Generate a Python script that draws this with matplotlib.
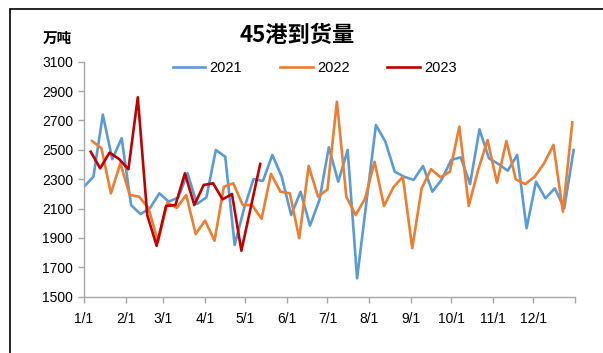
import pandas as pd
import numpy as np
import matplotlib.pyplot as plt
from matplotlib.patches import Rectangle

plt.rcParams['font.family'] = ['Liberation Sans', 'Noto Sans CJK SC', 'DejaVu Sans']

# weekly arrivals at 45 ports, 10k tonnes
v2021 = [2249, 2317, 2740, 2436, 2579, 2124, 2062, 2102, 2204, 2147,
         2175, 2340, 2131, 2177, 2499, 2453, 1852, 2100, 2301, 2288,
         2465, 2317, 2056, 2215, 1984, 2158, 2517, 2283, 2499, 1625,
         2147, 2669, 2556, 2351, 2317, 2295, 2390, 2215, 2299, 2431,
         2449, 2267, 2640, 2442, 2404, 2358, 2465, 1966, 2283, 2170,
         2238, 2102, 2499]
v2022 = [2560, 2510, 2204, 2408, 2193, 2181, 2102, 1875, 2140, 2105,
         2193, 1927, 2018, 1881, 2249, 2272, 2124, 2124, 2030, 2336,
         2215, 2204, 1898, 2390, 2181, 2231, 2828, 2181, 2056, 2170,
         2419, 2118, 2245, 2317, 1830, 2238, 2368, 2313, 2351, 2658,
         2118, 2363, 2567, 2276, 2560, 2299, 2267, 2317, 2408, 2533,
         2079, 2687]
v2023 = [2487, 2374, 2481, 2438, 2368, 2858, 2056, 1847, 2118, 2124,
         2340, 2124, 2261, 2272, 2163, 2199, 1813, 2109, 2404]

starts = {'2021': '2021-01-01', '2022': '2022-01-07', '2023': '2023-01-06'}
series = {'2021': v2021, '2022': v2022, '2023': v2023}
colors = {'2021': '#5B9BD5', '2022': '#ED7D31', '2023': '#C00000'}

month_days = [0, 31, 59, 90, 120, 151, 181, 212, 243, 273, 304, 334, 365]
month_labels = ['1/1', '2/1', '3/1', '4/1', '5/1', '6/1', '7/1', '8/1',
                '9/1', '10/1', '11/1', '12/1', '']

fig = plt.figure(figsize=(6.03, 3.53), dpi=100)
ax = fig.add_axes([84/603, 1 - 296.7/353, 491/603, 235/353])

for name, vals in series.items():
    d = pd.date_range(starts[name], periods=len(vals), freq='7D')
    x = d.dayofyear - 1
    ax.plot(x, vals, color=colors[name], lw=1.9, label=name)

ax.set_xlim(0, 365)
ax.set_ylim(1500, 3100)
ax.set_yticks(np.arange(1500, 3101, 200))
ax.set_xticks(month_days)
ax.set_xticklabels(month_labels)

for s in ['top', 'right']:
    ax.spines[s].set_visible(False)
for s in ['left', 'bottom']:
    ax.spines[s].set_color('#a6a6a6')
    ax.spines[s].set_linewidth(1.0)
ax.tick_params(axis='both', colors='#a6a6a6', labelcolor='black',
               labelsize=10, length=4, width=1.0)
ax.tick_params(axis='x', pad=7)
ax.tick_params(axis='y', pad=4)

ax.legend(loc='upper center', bbox_to_anchor=(0.47, 1.06), ncol=3,
          frameon=False, fontsize=10.5, handlelength=2.25,
          columnspacing=2.6, handletextpad=0.28)

fig.text(297/603, 1 - 35/353, '45港到货量', ha='center', va='center',
         fontsize=16, fontweight='bold',
         family=['Noto Sans CJK SC', 'DejaVu Sans'])
fig.text(57/603, 1 - 38/353, '万吨', ha='center', va='center',
         fontsize=10.5, fontweight='bold',
         family=['Noto Sans CJK SC', 'DejaVu Sans'])

fig.patches.append(Rectangle((10/603, -0.1), 1.2, 1 - 9.5/353 + 0.1,
                             transform=fig.transFigure, fill=False,
                             edgecolor='black', lw=1.2))

plt.savefig('out.png', dpi=100)
